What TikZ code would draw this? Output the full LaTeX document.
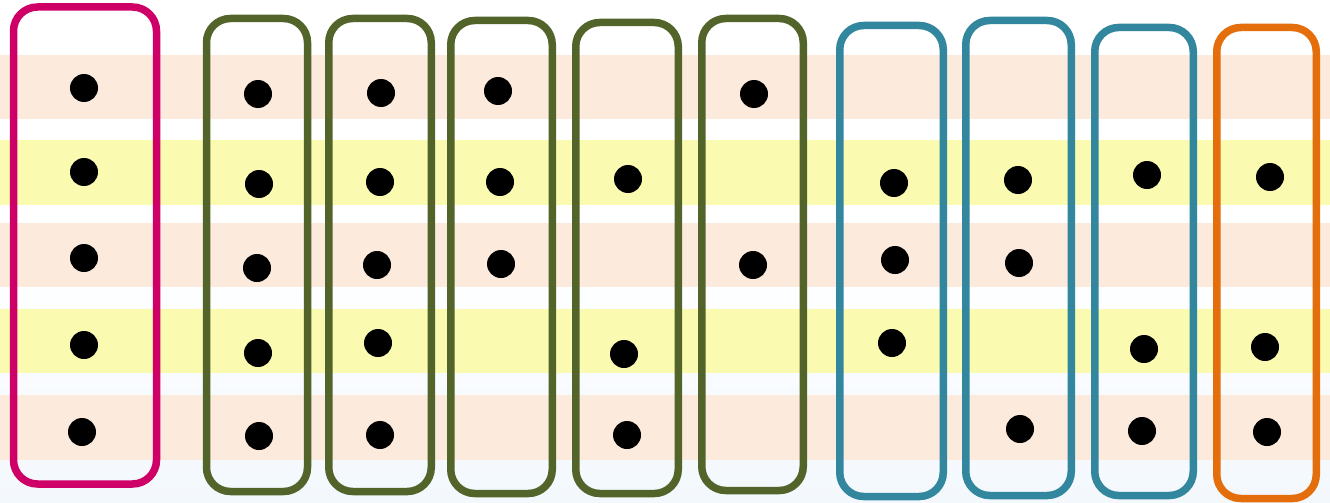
\documentclass[tikz,border=0pt]{standalone}
\usetikzlibrary{calc}
\definecolor{pinkc}{HTML}{CE0068}
\definecolor{greenc}{HTML}{53642A}
\definecolor{bluec}{HTML}{32879E}
\definecolor{orangec}{HTML}{E46D0C}
\definecolor{peach}{HTML}{FCEADC}
\definecolor{yell}{HTML}{FAFBB0}
\definecolor{bgbot}{HTML}{F3F8FD}
\tikzset{
  colbox/.style={draw=#1, line width=7.5pt, rounded corners=24pt, minimum width=100pt, inner sep=0pt, fill=none},
  dot/.style={circle, fill=black, minimum size=28pt, inner sep=0pt},
  band/.style={fill=#1, draw=none}
}
\begin{document}
\begin{tikzpicture}[x=1pt,y=-1pt]
\useasboundingbox (0,0) rectangle (1330,503);
\shade[top color=white, bottom color=bgbot, middle color=white] (0,0) rectangle (1330,503);
% bands
\fill[band=peach] (0,55) rectangle (1330,119);
\fill[band=yell] (0,140) rectangle (1330,205);
\fill[band=peach] (0,223) rectangle (1330,287);
\fill[band=yell] (0,309) rectangle (1330,373);
\fill[band=peach] (0,395) rectangle (1330,460);
% boxes
\node[colbox=pinkc, minimum width=143pt, minimum height=477pt] (p1) at (85,245.5) {};
\node[colbox=greenc, minimum width=101pt, minimum height=473pt] (g1) at (257,255) {};
\node[colbox=greenc, minimum width=102.5pt, minimum height=473pt] (g2) at (380,255) {};
\node[colbox=greenc, minimum width=101.5pt, minimum height=473pt] (g3) at (501.5,257) {};
\node[colbox=greenc, minimum width=102.5pt, minimum height=471pt] (g4) at (627,258) {};
\node[colbox=greenc, minimum width=101.5pt, minimum height=472pt] (g5) at (752.5,254.5) {};
\node[colbox=bluec, minimum width=103.5pt, minimum height=471pt] (b1) at (891.5,261) {};
\node[colbox=bluec, minimum width=105.5pt, minimum height=475pt] (b2) at (1018.5,258) {};
\node[colbox=bluec, minimum width=98.5pt, minimum height=468pt] (b3) at (1144,261.5) {};
\node[colbox=orangec, minimum width=99.5pt, minimum height=471pt] (o1) at (1266.5,263) {};
% dots
\node[dot] (p1a) at (84,88) {};
\node[dot] (p1b) at (84,172) {};
\node[dot] (p1c) at (84,258) {};
\node[dot] (p1d) at (84,345) {};
\node[dot] (p1e) at (82,432) {};
\node[dot] (g1a) at (258,94) {};
\node[dot] (g1b) at (259,184) {};
\node[dot] (g1c) at (257,268) {};
\node[dot] (g1d) at (258,353) {};
\node[dot] (g1e) at (259,436) {};
\node[dot] (g2a) at (381,93) {};
\node[dot] (g2b) at (380,182) {};
\node[dot] (g2c) at (377,265) {};
\node[dot] (g2d) at (378,343) {};
\node[dot] (g2e) at (380,435) {};
\node[dot] (g3a) at (498,91) {};
\node[dot] (g3b) at (500,182) {};
\node[dot] (g3c) at (501,264) {};
\node[dot] (g4b) at (628,179) {};
\node[dot] (g4d) at (624,354) {};
\node[dot] (g4e) at (627,435) {};
\node[dot] (g5a) at (754,94) {};
\node[dot] (g5c) at (753,265) {};
\node[dot] (b1b) at (894,183) {};
\node[dot] (b1c) at (895,260) {};
\node[dot] (b1d) at (892,343) {};
\node[dot] (b2b) at (1018,180) {};
\node[dot] (b2c) at (1019,263) {};
\node[dot] (b2e) at (1020,429) {};
\node[dot] (b3b) at (1147,175) {};
\node[dot] (b3d) at (1144,349) {};
\node[dot] (b3e) at (1142,431) {};
\node[dot] (o1b) at (1270,177) {};
\node[dot] (o1d) at (1265,347) {};
\node[dot] (o1e) at (1267,432) {};
\end{tikzpicture}
\end{document}
